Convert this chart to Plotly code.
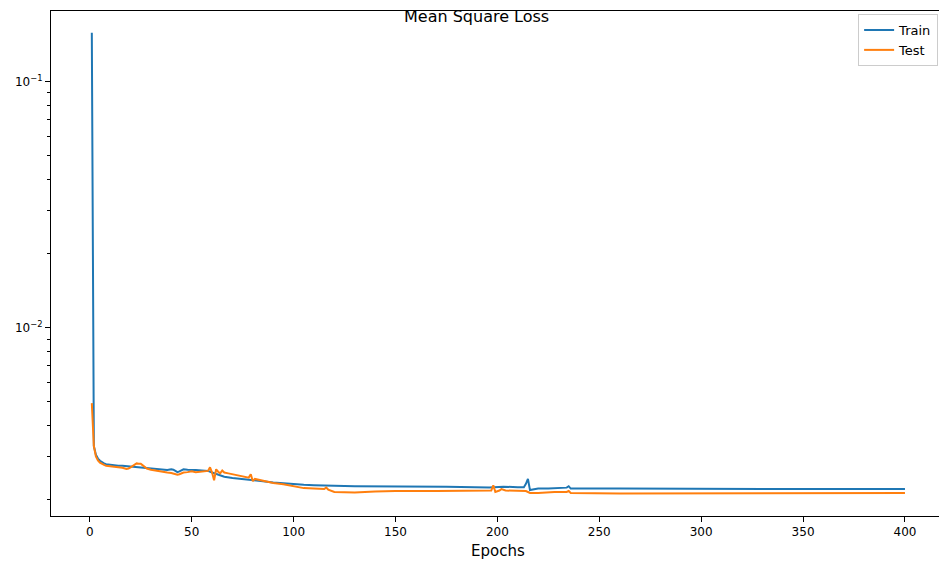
import plotly.graph_objects as go

# Training curve (epoch, loss)
train_epochs = [1, 2, 3, 4, 5, 6, 7, 8, 9, 10, 12, 14, 16, 18, 20, 22, 24, 26, 28, 30,
                32, 34, 36, 38, 40, 41, 42, 43, 44, 45, 46, 48, 50, 52, 55, 58, 60, 62,
                64, 66, 70, 75, 80, 85, 90, 95, 100, 105, 110, 116, 120, 130, 140, 155,
                175, 196, 203, 210, 213, 214, 215, 216, 217, 220, 225, 234, 235, 236,
                260, 300, 350, 400]
train_loss = [0.158, 0.00330, 0.00305, 0.00294, 0.00288, 0.00284, 0.00281, 0.00279,
              0.00278, 0.00277, 0.00276, 0.00275, 0.00275, 0.00274, 0.00273, 0.00272,
              0.00271, 0.00270, 0.00268, 0.00267, 0.00266, 0.00265, 0.00265, 0.00264,
              0.00266, 0.00265, 0.00262, 0.00259, 0.00261, 0.00263, 0.00266, 0.00265,
              0.00265, 0.00264, 0.00263, 0.00262, 0.00258, 0.00254, 0.00250, 0.00248,
              0.00245, 0.00243, 0.00241, 0.00238, 0.00235, 0.00233, 0.00231, 0.00230,
              0.00229, 0.00229, 0.00228, 0.00227, 0.00227, 0.00227, 0.00226, 0.002245,
              0.00226, 0.00225, 0.00225, 0.00232, 0.00243, 0.00219, 0.00220, 0.00222,
              0.00222, 0.00224, 0.00227, 0.00222, 0.00222, 0.00221, 0.00221, 0.00221]

# Test curve (epoch, loss)
test_epochs = [1, 2, 3, 4, 5, 6, 7, 8, 10, 12, 14, 16, 18, 19, 20, 22, 23, 24, 25, 26,
               28, 30, 32, 34, 36, 38, 40, 42, 43, 44, 46, 48, 50, 52, 54, 56, 58, 59,
               60, 61, 62, 63, 64, 65, 66, 68, 70, 72, 75, 78, 79, 80, 81, 85, 90, 95,
               100, 102, 105, 110, 115, 116, 117, 120, 125, 130, 140, 150, 170, 190,
               197, 198, 199, 201, 202, 204, 210, 214, 216, 220, 228, 234, 235, 236,
               260, 300, 350, 400]
test_loss = [0.00494, 0.00330, 0.00300, 0.00289, 0.00283, 0.00279, 0.00277, 0.00275,
             0.00274, 0.00272, 0.00271, 0.00270, 0.00267, 0.00268, 0.00271, 0.00278,
             0.00281, 0.00280, 0.00280, 0.00276, 0.00268, 0.00265, 0.00263, 0.00261,
             0.00259, 0.00258, 0.00257, 0.00254, 0.00253, 0.00254, 0.00258, 0.00259,
             0.00261, 0.00259, 0.00260, 0.00261, 0.00262, 0.00271, 0.00258, 0.00240,
             0.00266, 0.00260, 0.00256, 0.00263, 0.00258, 0.00256, 0.00254, 0.00252,
             0.00249, 0.00246, 0.00254, 0.00238, 0.00243, 0.00239, 0.00234, 0.00231,
             0.00227, 0.00224, 0.00223, 0.00222, 0.00221, 0.00224, 0.00220, 0.00215,
             0.00214, 0.00214, 0.00216, 0.00217, 0.00217, 0.00218, 0.00218, 0.00229,
             0.00215, 0.00218, 0.00221, 0.00218, 0.00217, 0.00217, 0.00213, 0.00213,
             0.00215, 0.00215, 0.00217, 0.00213, 0.00212, 0.00212, 0.00212, 0.00213]

x_ticks = [0, 50, 100, 150, 200, 250, 300, 350, 400]
y_ticks = [0.01, 0.1]
y_tick_text = ["10<sup>\u22122</sup>", "10<sup>\u22121</sup>"]
y_minor = [k * 1e-3 for k in range(2, 10)] + [k * 1e-2 for k in range(2, 10)]

fig = go.Figure()
fig.add_trace(go.Scatter(x=train_epochs, y=train_loss, mode="lines", name="Train",
                         line=dict(color="#1f77b4", width=2)))
fig.add_trace(go.Scatter(x=test_epochs, y=test_loss, mode="lines", name="Test",
                         line=dict(color="#ff7f0e", width=2)))

font = "DejaVu Sans, sans-serif"
fig.update_layout(
    width=939, height=566,
    margin=dict(l=51, r=0, t=11, b=50),
    plot_bgcolor="white", paper_bgcolor="white",
    font=dict(family=font, size=12, color="black"),
    xaxis=dict(range=[-19.03, 416.7], tickvals=x_ticks, showgrid=False, zeroline=False,
               showline=True, linecolor="black", linewidth=1, mirror=True,
               ticks="outside", ticklen=5, tickcolor="black",
               tickfont=dict(size=12, family=font)),
    yaxis=dict(type="log", range=[-2.765, -0.7126], tickvals=y_ticks, ticktext=y_tick_text,
               showgrid=False, zeroline=False, showline=True, linecolor="black",
               linewidth=1, ticks="outside", ticklen=5, tickcolor="black",
               tickfont=dict(size=12, family=font),
               minor=dict(tickvals=y_minor, ticks="outside", ticklen=3,
                          tickcolor="black", showgrid=False)),
    legend=dict(x=0.999, xanchor="right", y=0.994, yanchor="top",
                bgcolor="rgba(255,255,255,0.8)", bordercolor="#cccccc", borderwidth=1,
                font=dict(size=13, family=font), tracegroupgap=2),
    showlegend=True,
)

fig.add_annotation(text="Mean Square Loss", xref="paper", yref="paper",
                   x=0.4797, y=0.990, xanchor="center", yanchor="middle",
                   showarrow=False, font=dict(size=16, family=font))
fig.add_annotation(text="Epochs", xref="paper", yref="paper",
                   x=(498 - 51) / 888, y=-(551 - 516) / 505, xanchor="center",
                   yanchor="middle", showarrow=False, font=dict(size=15, family=font))

fig.write_html("out.html")
